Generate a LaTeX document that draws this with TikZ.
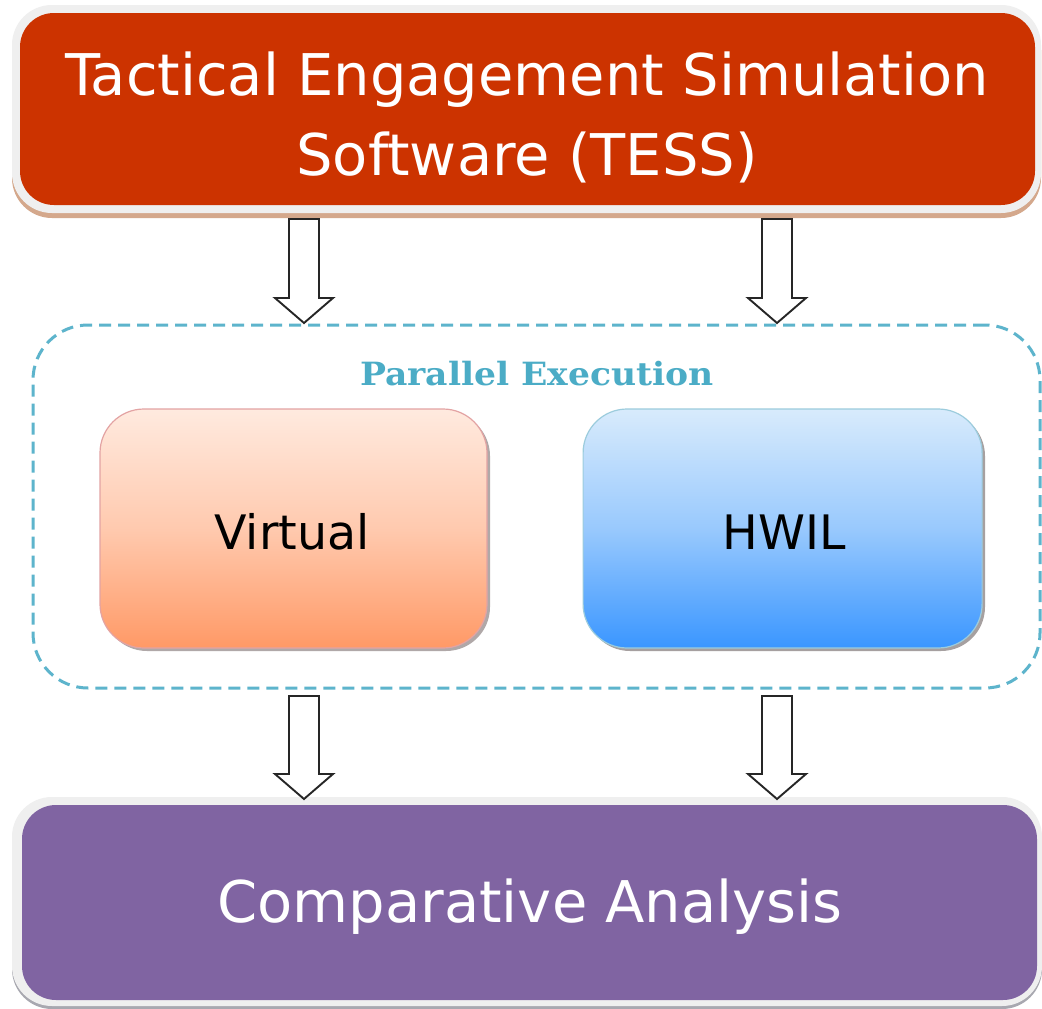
\documentclass[tikz,border=0pt]{standalone}
\usepackage{fontspec}
\setmainfont{DejaVu Sans}
\newfontfamily\serifbold[FakeStretch=1.08]{DejaVu Serif}
\usetikzlibrary{calc}
\definecolor{tessred}{HTML}{CC3300}
\definecolor{framegray}{HTML}{EFEFEF}
\definecolor{tanshadow}{HTML}{D4A88C}
\definecolor{graysh}{HTML}{A8A8B0}
\definecolor{purp}{HTML}{8064A2}
\definecolor{tealdash}{HTML}{4BACC6}
\definecolor{vtop}{HTML}{FFEADF}
\definecolor{vbot}{HTML}{FF9966}
\definecolor{vborder}{HTML}{E3A3A3}
\definecolor{htop}{HTML}{D8EBFC}
\definecolor{hbot}{HTML}{3A96FF}
\definecolor{hborder}{HTML}{9CCCDD}
\definecolor{boxsh}{HTML}{B0A8A8}
\tikzset{
  bigbox/.style={rectangle, rounded corners=34pt, inner sep=0pt},
  whitetext/.style={text=white, inner sep=0pt, font=\fontsize{57.5}{69}\selectfont},
  blacktext/.style={text=black, inner sep=0pt, font=\fontsize{47.5}{57}\selectfont},
  partext/.style={text=tealdash, inner sep=0pt, font=\serifbold\bfseries\fontsize{32}{38}\selectfont},
  dashframe/.style={draw=tealdash!90!white, line width=3pt, dash pattern=on 12pt off 7pt, rounded corners=55pt, inner sep=0pt},
  innerbox/.style={rectangle, rounded corners=44pt, inner sep=0pt, line width=1.2pt, minimum width=387pt, minimum height=239pt},
  arrbody/.style={draw=black!85, fill=white, line width=1.9pt, line join=miter},
}
\newcommand\blockarr[2]{%
  \draw[arrbody] ($(#1)+(-15,0)$) -- ($(#2)+(-15,-25)$) -- ($(#2)+(-29,-25)$) -- (#2)
    -- ($(#2)+(29,-25)$) -- ($(#2)+(15,-25)$) -- ($(#1)+(15,0)$) -- cycle;}
\begin{document}
\begin{tikzpicture}[x=1pt,y=-1pt]
\useasboundingbox (0,0) rectangle (1042,1009);
\fill[white] (0,0) rectangle (1042,1009);

% TESS
\fill[tanshadow, rounded corners=40pt] (12,10) rectangle (1041,218);
\fill[framegray, rounded corners=40pt] (12,5) rectangle (1041,213);
\node[bigbox, fill=tessred, minimum width=1015pt, minimum height=192pt] (tess) at (527.5,109) {};
\node[whitetext, anchor=base] (t1) at (527,95) {Tactical Engagement Simulation};
\node[whitetext, anchor=base] (t2) at (527,175) {Software (TESS)};

% parallel frame
\node[dashframe, minimum width=1007pt, minimum height=363pt] (par) at (536.5,506.5) {};
\node[partext, anchor=base] (ptitle) at (537,385) {Parallel Execution};

% Virtual
\fill[boxsh, rounded corners=44pt] (103,412) rectangle (490,651);
\node[innerbox, draw=vborder, top color=vtop, bottom color=vbot, middle color=vbot!40!vtop] (virt) at (293.5,528.5) {};
\node[blacktext, anchor=base] (vt) at (292,549) {Virtual};

% HWIL
\fill[boxsh!80!gray, rounded corners=44pt] (586,412) rectangle (985,651);
\node[innerbox, minimum width=399pt, draw=hborder, top color=htop, bottom color=hbot, middle color=hbot!40!htop] (hwil) at (582.5,528.5) [anchor=west] {};
\node[blacktext, anchor=base] (ht) at (784,549) {HWIL};

% Comparative
\fill[graysh, rounded corners=40pt] (12,802) rectangle (1042,1009);
\fill[framegray, rounded corners=40pt] (12,797) rectangle (1042,1006);
\node[bigbox, fill=purp, minimum width=1015pt, minimum height=195pt] (comp) at (529.5,902.5) {};
\node[whitetext, anchor=base] (ct) at (530,922) {Comparative Analysis};

% arrows
\coordinate (a1s) at (304,219);
\coordinate (a1e) at (304,323);
\coordinate (a2s) at (777,219);
\coordinate (a2e) at (777,323);
\coordinate (a3s) at (304,696);
\coordinate (a3e) at (304,799);
\coordinate (a4s) at (777,696);
\coordinate (a4e) at (777,799);
\blockarr{a1s}{a1e}
\blockarr{a2s}{a2e}
\blockarr{a3s}{a3e}
\blockarr{a4s}{a4e}
\end{tikzpicture}
\end{document}
